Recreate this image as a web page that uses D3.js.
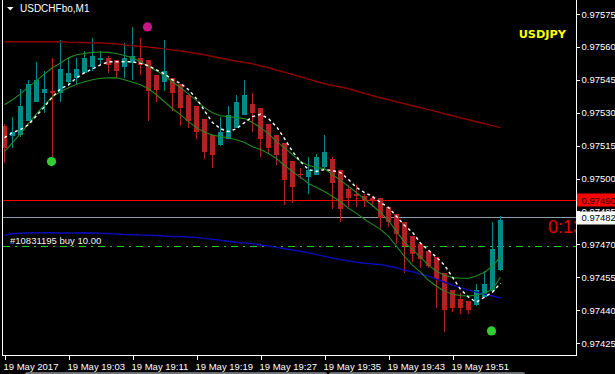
<!DOCTYPE html>
<html><head><meta charset="utf-8">
<script src="https://cdn.jsdelivr.net/npm/d3@7"></script>
<style>html,body{margin:0;padding:0;background:#000;overflow:hidden}</style>
</head><body><svg id="c" width="615" height="374"></svg>
<script>
// ---------------- data ----------------
const symbol = "USDCHFbo,M1";
const overlaySymbol = "USDJPY";
const timeLabels = ["19 May 2017","19 May 19:03","19 May 19:11","19 May 19:19","19 May 19:27","19 May 19:35","19 May 19:43","19 May 19:51"];
const timeLabelBars = [0,8,16,24,32,40,48,56];
const priceTicks = [0.97575,0.97560,0.97545,0.97530,0.97515,0.97500,0.97485,0.97470,0.97455,0.97440,0.97425];

const open = [0.97524,0.97519,0.97520,0.97526,0.97535,0.97539,0.97540,0.97539,0.97544,0.97546,
0.97548,0.97551,0.97554,0.97555,0.97554,0.97551,0.97553,0.97555,0.97554,0.97547,
0.97544,0.97546,0.97543,0.97538,0.97533,0.97527,0.97520,0.97515,0.97518,0.97523,
0.97529,0.97534,0.97532,0.97525,0.97520,0.97516,0.97508,0.97502,0.97501,0.97502,
0.97505,0.97509,0.97504,0.97495,0.97493,0.97492,0.97491,0.97491,0.97487,0.97484,
0.97480,0.97474,0.97470,0.97467,0.97464,0.97457,0.97449,0.97445,0.97444,0.97442,
0.97446,0.97449,0.97458];
const high = [0.97525,0.97528,0.97541,0.97545,0.97553,0.97549,0.97555,0.97563,0.97555,0.97555,
0.97558,0.97564,0.97558,0.97556,0.97554,0.97562,0.97569,0.97564,0.97554,0.97547,
0.97563,0.97546,0.97543,0.97538,0.97533,0.97527,0.97520,0.97528,0.97533,0.97538,
0.97545,0.97539,0.97532,0.97525,0.97520,0.97516,0.97508,0.97505,0.97510,0.97511,
0.97520,0.97510,0.97504,0.97497,0.97497,0.97493,0.97492,0.97491,0.97487,0.97484,
0.97480,0.97474,0.97470,0.97467,0.97464,0.97457,0.97449,0.97448,0.97444,0.97452,
0.97458,0.97480,0.97483];
const low = [0.97507,0.97514,0.97519,0.97526,0.97535,0.97530,0.97510,0.97535,0.97542,0.97543,
0.97548,0.97549,0.97552,0.97548,0.97546,0.97546,0.97545,0.97547,0.97526,0.97535,
0.97540,0.97531,0.97524,0.97523,0.97518,0.97509,0.97505,0.97515,0.97518,0.97523,
0.97529,0.97521,0.97510,0.97511,0.97506,0.97488,0.97489,0.97500,0.97493,0.97502,
0.97505,0.97486,0.97480,0.97487,0.97487,0.97487,0.97487,0.97477,0.97478,0.97470,
0.97457,0.97462,0.97459,0.97459,0.97441,0.97430,0.97439,0.97438,0.97438,0.97442,
0.97446,0.97449,0.97458];
const close = [0.97514,0.97521,0.97533,0.97543,0.97545,0.97541,0.97539,0.97550,0.97548,0.97550,
0.97555,0.97556,0.97555,0.97552,0.97549,0.97555,0.97556,0.97552,0.97540,0.97540,
0.97549,0.97539,0.97532,0.97526,0.97521,0.97512,0.97511,0.97521,0.97529,0.97535,
0.97538,0.97530,0.97518,0.97514,0.97511,0.97499,0.97496,0.97502,0.97504,0.97510,
0.97512,0.97498,0.97486,0.97491,0.97492,0.97490,0.97490,0.97482,0.97480,0.97475,
0.97469,0.97466,0.97463,0.97460,0.97454,0.97440,0.97441,0.97441,0.97440,0.97449,
0.97452,0.97468,0.97481];

const maSlow = [0.975623,0.975623,0.975623,0.975623,0.975623,0.975623,0.975623,0.975623,0.975621,0.975620,
0.975620,0.975618,0.975618,0.975616,0.975614,0.975609,0.975606,0.975602,0.975599,0.975595,
0.975591,0.975586,0.975582,0.975576,0.975570,0.975564,0.975556,0.975549,0.975541,0.975535,
0.975529,0.975523,0.975514,0.975505,0.975495,0.975485,0.975474,0.975464,0.975453,0.975442,
0.975432,0.975424,0.975417,0.975409,0.975399,0.975388,0.975377,0.975368,0.975359,0.975350,
0.975341,0.975332,0.975323,0.975314,0.975305,0.975295,0.975286,0.975277,0.975268,0.975259,
0.975250,0.975241,0.975232];
const envUpper = [0.975336,0.975359,0.975386,0.975418,0.975445,0.975477,0.975505,0.975527,0.975550,0.975564,
0.975570,0.975575,0.975577,0.975575,0.975570,0.975561,0.975550,0.975532,0.975511,0.975491,
0.975468,0.975441,0.975414,0.975386,0.975355,0.975323,0.975300,0.975286,0.975282,0.975277,
0.975273,0.975255,0.975232,0.975205,0.975168,0.975141,0.975109,0.975077,0.975059,0.975050,
0.975045,0.975018,0.974991,0.974964,0.974936,0.974905,0.974877,0.974845,0.974809,0.974759,
0.974709,0.974677,0.974641,0.974605,0.974577,0.974559,0.974548,0.974545,0.974545,0.974555,
0.974573,0.974600,0.974645];
const envLower = [0.975123,0.975164,0.975205,0.975250,0.975295,0.975336,0.975373,0.975395,0.975414,0.975430,
0.975441,0.975450,0.975457,0.975459,0.975459,0.975450,0.975439,0.975427,0.975409,0.975382,
0.975350,0.975318,0.975291,0.975259,0.975232,0.975211,0.975198,0.975191,0.975186,0.975177,
0.975164,0.975145,0.975132,0.975114,0.975091,0.975059,0.975032,0.975005,0.974977,0.974959,
0.974941,0.974918,0.974895,0.974864,0.974841,0.974814,0.974791,0.974768,0.974736,0.974691,
0.974645,0.974605,0.974573,0.974536,0.974509,0.974486,0.974473,0.974466,0.974464,0.974468,
0.974477,0.974495,0.974550];
const maFast = [0.975186,0.975209,0.975223,0.975245,0.975286,0.975327,0.975373,0.975409,0.975427,0.975459,
0.975482,0.975500,0.975518,0.975532,0.975532,0.975532,0.975532,0.975525,0.975514,0.975495,
0.975477,0.975450,0.975434,0.975405,0.975364,0.975309,0.975255,0.975227,0.975214,0.975227,
0.975255,0.975282,0.975293,0.975273,0.975236,0.975182,0.975123,0.975077,0.975041,0.975032,
0.975041,0.975036,0.975027,0.974995,0.974959,0.974936,0.974918,0.974891,0.974868,0.974827,
0.974786,0.974755,0.974705,0.974673,0.974641,0.974605,0.974550,0.974495,0.974459,0.974436,
0.974459,0.974482,0.974523];
const maBlue = [0.974741,0.974748,0.974750,0.974752,0.974753,0.974753,0.974753,0.974752,0.974751,0.974752,
0.974753,0.974752,0.974750,0.974749,0.974747,0.974745,0.974744,0.974742,0.974741,0.974740,
0.974738,0.974736,0.974735,0.974733,0.974731,0.974727,0.974723,0.974718,0.974714,0.974709,
0.974706,0.974702,0.974697,0.974692,0.974686,0.974680,0.974674,0.974668,0.974661,0.974653,
0.974645,0.974638,0.974631,0.974624,0.974618,0.974614,0.974610,0.974608,0.974600,0.974593,
0.974582,0.974575,0.974564,0.974555,0.974541,0.974527,0.974514,0.974502,0.974491,0.974482,
0.974473,0.974464,0.974455];

const levelRed = 0.97490;
const bidPrice = 0.97482;
const orderPrice = 0.97469;
const orderLabel = "#10831195 buy 10.00";
const timerText = "0:13";
const arrowBars = [6, 18, 61];
const arrowPrices = [0.975077, 0.975691, 0.974305];
const arrowKinds = ["buy", "sell", "buy"];

// ---------------- drawing ----------------
const W = 615, H = 374;
const plotL = 2.5, plotR = 576.5, plotB = 355.5;
const FONT = "'Liberation Sans', Arial, sans-serif";
const svg = d3.select("#c");
const n = open.length;
const idx = d3.range(n);

const x = d3.scaleLinear().domain([0, n - 1]).range([4.5, 500.5]);
const y = d3.scaleLinear().domain([0.97425, 0.97575]).range([343, 14]);
const crisp = v => Math.floor(v) + 0.5;

svg.append("rect").attr("width", W).attr("height", H).attr("fill", "#000");

svg.append("defs").append("clipPath").attr("id", "clip")
  .append("rect").attr("x", plotL).attr("y", 0).attr("width", plotR - plotL).attr("height", plotB);

const plot = svg.append("g").attr("clip-path", "url(#clip)");

// horizontal level lines
function hline(p, color, dash, w) {
  plot.append("line").attr("x1", plotL).attr("x2", plotR)
    .attr("y1", crisp(y(p))).attr("y2", crisp(y(p)))
    .attr("stroke", color).attr("stroke-width", w || 1)
    .attr("stroke-dasharray", dash || null).attr("shape-rendering", "crispEdges");
}
hline(levelRed, "#ff0000");
hline(bidPrice, "#8a9bb0");
hline(orderPrice, "#22cc22", "7,5,2,5", 1.3);

// candles
const bull = i => close[i] > open[i];
const colUp = "#008b8b", colDn = "#b22222";
const cg = plot.append("g").attr("shape-rendering", "crispEdges");
cg.selectAll("line.w").data(idx).join("line").attr("class", "w")
  .attr("x1", i => x(i)).attr("x2", i => x(i))
  .attr("y1", i => Math.round(y(high[i]))).attr("y2", i => Math.round(y(low[i])))
  .attr("stroke", i => bull(i) ? colUp : colDn).attr("stroke-width", 1);
cg.selectAll("rect.b").data(idx).join("rect").attr("class", "b")
  .attr("x", i => x(i) - 2.5).attr("width", 5)
  .attr("y", i => Math.round(y(Math.max(open[i], close[i]))))
  .attr("height", i => Math.max(1, Math.round(Math.abs(y(open[i]) - y(close[i])))))
  .attr("fill", i => bull(i) ? colUp : colDn);

// indicator lines
function series(arr, color, w, dash) {
  plot.append("path").datum(idx)
    .attr("d", d3.line().x(i => x(i)).y(i => y(arr[i])))
    .attr("fill", "none").attr("stroke", color).attr("stroke-width", w)
    .attr("stroke-dasharray", dash || null);
}
series(maSlow, "#8b0000", 1.5);
series(maBlue, "#0a0ab4", 1.5);
series(envUpper, "#228b22", 1.1);
series(envLower, "#228b22", 1.1);
series(maFast, "#ffffff", 1.4, "3,3");

// arrows (dots)
plot.selectAll("circle.a").data(arrowBars).join("circle").attr("class", "a")
  .attr("cx", (b, k) => x(b) - 1).attr("cy", (b, k) => y(arrowPrices[k]))
  .attr("r", 4.6)
  .attr("fill", (b, k) => arrowKinds[k] === "buy" ? "#32cd32" : "#c71585");

// order label
plot.append("text").attr("x", 10).attr("y", 244).attr("fill", "#f4f4ec")
  .attr("font-family", FONT).attr("font-size", 9.5).text(orderLabel);

// timer text
plot.append("text").attr("x", 548).attr("y", 233).attr("fill", "#e60000")
  .attr("font-family", FONT).attr("font-size", 18).text(timerText);

// overlay symbol
plot.append("text").attr("x", 566).attr("y", 37.5).attr("text-anchor", "end")
  .attr("fill", "#ffff00").attr("font-family", "'DejaVu Sans', sans-serif")
  .attr("font-weight", "bold").attr("font-size", 11.3).text(overlaySymbol);

// title
svg.append("path").attr("d", "M7,7L13.5,7L10.25,10.5Z").attr("fill", "#fff");
svg.append("text").attr("x", 20).attr("y", 11.7).attr("fill", "#fff")
  .attr("font-family", FONT).attr("font-size", 10).text(symbol);

// right axis
const ya = svg.append("g").attr("transform", `translate(${plotR},0)`)
  .call(d3.axisRight(y).tickValues(priceTicks).tickSize(3).tickPadding(2).tickFormat(d3.format(".5f")));
ya.select(".domain").remove();
ya.selectAll(".tick line").attr("stroke", "#fff").attr("shape-rendering", "crispEdges");
ya.selectAll(".tick text").attr("fill", "#fff").attr("font-family", FONT).attr("font-size", 9.5);

// price boxes on axis
function priceBox(p, bg, fg) {
  const cy = y(p);
  svg.append("rect").attr("x", plotR + 0.5).attr("y", Math.round(cy) - 6.5).attr("width", W - plotR).attr("height", 13).attr("fill", bg);
  svg.append("text").attr("x", plotR + 5).attr("y", cy).attr("dy", "0.34em").attr("fill", fg)
    .attr("font-family", FONT).attr("font-size", 9.5).text(d3.format(".5f")(p));
}
priceBox(levelRed, "#ff0000", "#200000");
priceBox(bidPrice, "#ffffff", "#000000");

// bottom axis
const xa = svg.append("g").attr("transform", `translate(0,${plotB})`)
  .call(d3.axisBottom(x).tickValues(timeLabelBars).tickSize(4).tickPadding(4).tickFormat((d, i) => timeLabels[i]));
xa.select(".domain").remove();
xa.selectAll(".tick line").attr("stroke", "#fff").attr("shape-rendering", "crispEdges");
xa.selectAll(".tick text").attr("fill", "#fff").attr("font-family", FONT).attr("font-size", 9.5)
  .attr("text-anchor", "start").attr("x", -1.5);

// frame
const fr = svg.append("g").attr("stroke", "#fff").attr("stroke-width", 1).attr("shape-rendering", "crispEdges");
fr.append("line").attr("x1", plotL).attr("x2", plotL).attr("y1", 0).attr("y2", plotB);
fr.append("line").attr("x1", plotR).attr("x2", plotR).attr("y1", 0).attr("y2", plotB);
fr.append("line").attr("x1", plotL).attr("x2", plotR).attr("y1", plotB).attr("y2", plotB);

// bottom tab strip (window decoration)
const grad = svg.select("defs").append("linearGradient").attr("id", "tabg").attr("x1", 0).attr("x2", 0).attr("y1", 0).attr("y2", 1);
grad.append("stop").attr("offset", "0").attr("stop-color", "#5a5f66");
grad.append("stop").attr("offset", "1").attr("stop-color", "#b9bdc2");
[[25, 327], [329, 525]].forEach(([a, b]) => {
  svg.append("rect").attr("x", a).attr("y", 372).attr("width", b - a).attr("height", 6).attr("rx", 2)
    .attr("fill", "url(#tabg)");
});
</script>
</body></html>
